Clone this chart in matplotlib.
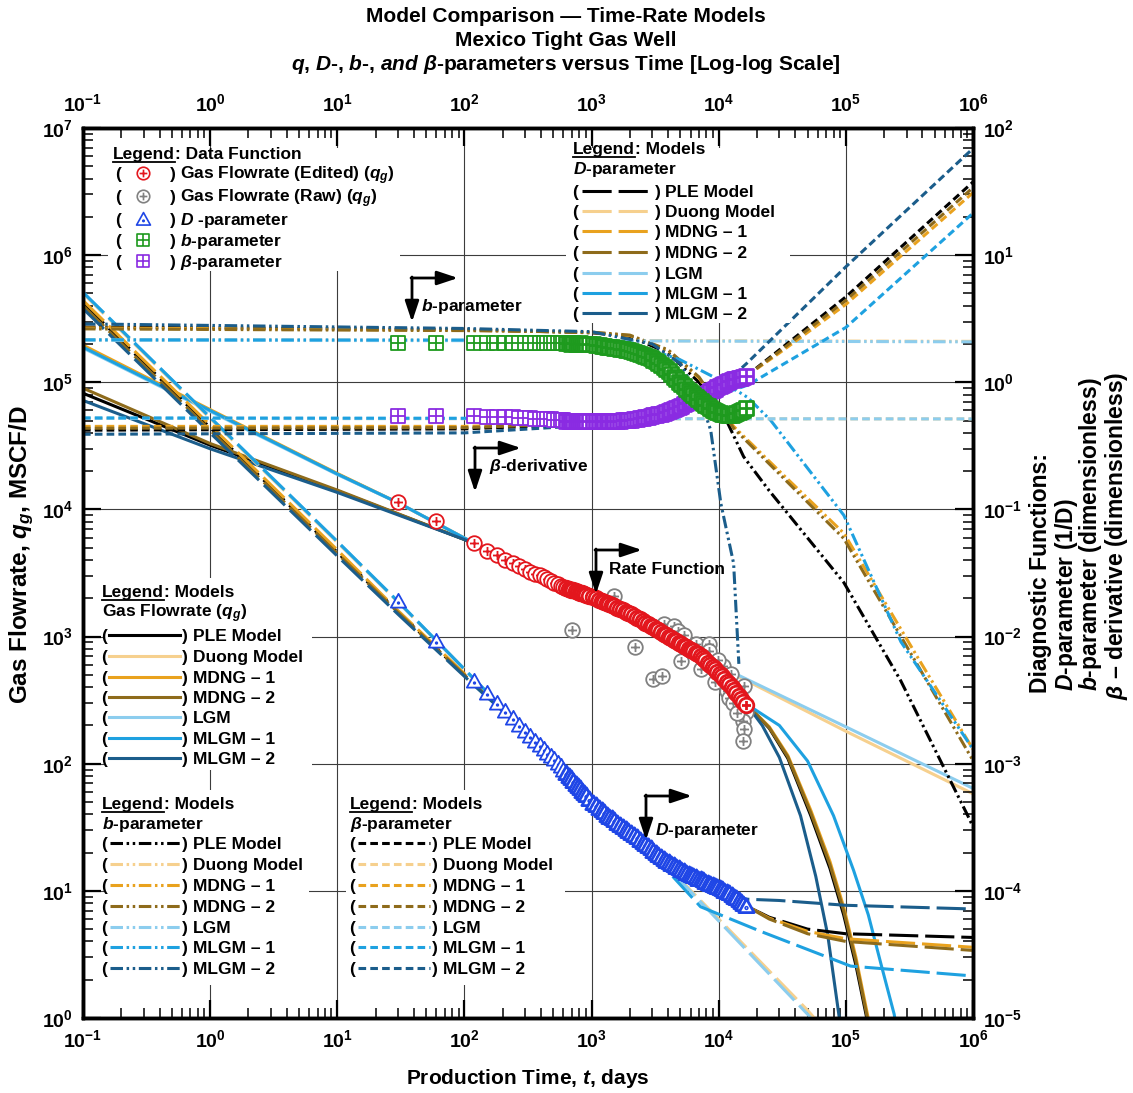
import numpy as np
import matplotlib
matplotlib.use("Agg")
import matplotlib.pyplot as plt
from matplotlib.path import Path
from matplotlib.patches import Rectangle
from matplotlib.ticker import LogLocator, FuncFormatter, NullFormatter

plt.rcParams.update({
    "font.family": ["Liberation Sans", "DejaVu Sans"],
    "font.weight": "bold",
    "mathtext.fontset": "custom",
    "mathtext.rm": "Liberation Sans:bold",
    "mathtext.it": "Liberation Sans:italic:bold",
    "mathtext.bf": "Liberation Sans:bold",
    "lines.scale_dashes": False,
})

W, H = 1133, 1093

# ---------------- production data (monthly records, days) ----------------
t_data = [30, 60, 120, 150, 180, 210, 240, 270, 300, 330, 360, 390, 420, 450, 480, 510, 540, 570, 600,
          630, 660, 690, 720, 750, 780, 810, 840, 870, 900,
          960, 1020, 1080, 1140, 1200, 1260, 1320, 1380, 1440, 1500,
          1590, 1680, 1770, 1860, 1950, 2040, 2160, 2280, 2400, 2520, 2640, 2760,
          2910, 3060, 3210, 3360, 3510, 3690, 3870, 4050, 4230, 4440, 4650, 4860, 5070,
          5310, 5550, 5790, 6060, 6330, 6600, 6900, 7200, 7530, 7860,
          8220, 8580, 8970, 9360, 9780, 10200, 10650, 11100, 11580, 12090, 12630,
          13170, 13740, 14340, 14970, 15630, 16320]
N_SPARSE = 19  # records before the curve becomes a continuous band

q_edited = [11500, 8100, 5400, 4750, 4350, 3970, 3760, 3570, 3390, 3220, 3130, 3030, 2950, 2850, 2750, 2660, 2590, 2520, 2470,
            2420, 2380, 2340, 2310, 2275, 2245, 2215, 2185, 2155, 2130,
            2085, 2040, 1995, 1945, 1905, 1865, 1825, 1790, 1760, 1725,
            1680, 1640, 1605, 1570, 1540, 1505, 1460, 1410, 1370, 1330, 1290, 1260,
            1220, 1180, 1150, 1120, 1090, 1055, 1030, 1000, 975, 946, 921, 896, 873,
            849, 828, 805, 785, 765, 745, 725, 700, 673, 649,
            622, 600, 574, 552, 530, 508, 488, 466, 442, 420, 398,
            378, 359, 340, 324, 307, 292]

d_data = [0.0189, 0.00931, 0.00451, 0.00361, 0.00302, 0.00259, 0.00227, 0.00203, 0.00182, 0.00166, 0.00152, 0.00141,
          0.00131, 0.00122, 0.00115, 0.00108, 0.00102, 9.53e-4, 9.0e-4,
          8.51e-4, 8.05e-4, 7.66e-4, 7.31e-4, 6.97e-4, 6.67e-4, 6.39e-4, 6.14e-4, 5.87e-4, 5.66e-4,
          5.26e-4, 4.95e-4, 4.73e-4, 4.51e-4, 4.32e-4, 4.15e-4, 3.98e-4, 3.84e-4, 3.71e-4, 3.60e-4,
          3.44e-4, 3.30e-4, 3.18e-4, 3.06e-4, 2.96e-4, 2.86e-4, 2.74e-4, 2.63e-4, 2.52e-4, 2.43e-4, 2.33e-4, 2.25e-4,
          2.16e-4, 2.07e-4, 1.99e-4, 1.92e-4, 1.85e-4, 1.78e-4, 1.73e-4, 1.68e-4, 1.64e-4, 1.59e-4, 1.55e-4, 1.50e-4, 1.46e-4,
          1.42e-4, 1.38e-4, 1.35e-4, 1.33e-4, 1.30e-4, 1.28e-4, 1.25e-4, 1.23e-4, 1.21e-4, 1.18e-4,
          1.16e-4, 1.14e-4, 1.11e-4, 1.09e-4, 1.07e-4, 1.05e-4, 1.03e-4, 1.00e-4, 9.77e-5, 9.55e-5, 9.31e-5,
          8.99e-5, 8.71e-5, 8.41e-5, 8.15e-5, 7.89e-5, 7.62e-5]

b_data = [2.03, 2.04, 2.03, 2.02, 2.03, 2.04, 2.03, 2.02, 2.03, 2.03, 2.02, 2.03, 2.02, 2.03, 2.02, 2.02, 2.03, 2.02, 2.02,
          2.02, 2.02, 2.01, 2.02, 2.01, 2.01, 2.02, 2.01, 2.01, 2.00,
          2.00, 1.99, 1.97, 1.95, 1.94, 1.92, 1.91, 1.89, 1.88, 1.87,
          1.85, 1.84, 1.82, 1.81, 1.79, 1.77, 1.73, 1.69, 1.66, 1.63, 1.60, 1.57,
          1.54, 1.51, 1.47, 1.42, 1.37, 1.32, 1.27, 1.22, 1.17, 1.11, 1.06, 1.01, 0.97,
          0.93, 0.89, 0.86, 0.82, 0.79, 0.76, 0.74, 0.71, 0.69, 0.665,
          0.645, 0.63, 0.61, 0.595, 0.58, 0.57, 0.565, 0.56, 0.557, 0.553, 0.55,
          0.562, 0.574, 0.586, 0.598, 0.61, 0.624]

beta_data = [0.54, 0.54, 0.54, 0.535, 0.535, 0.53, 0.53, 0.525, 0.52, 0.52, 0.518, 0.515, 0.513, 0.512, 0.51, 0.508,
             0.507, 0.505, 0.503,
             0.50, 0.50, 0.50, 0.498, 0.498, 0.497, 0.497, 0.496, 0.496, 0.495,
             0.495, 0.494, 0.494, 0.494, 0.495, 0.495, 0.496, 0.497, 0.498, 0.499,
             0.50, 0.50, 0.501, 0.502, 0.503, 0.505, 0.511, 0.517, 0.521, 0.527, 0.532, 0.537,
             0.543, 0.548, 0.555, 0.56, 0.564, 0.570, 0.582, 0.594, 0.605, 0.618, 0.631, 0.644, 0.656,
             0.670, 0.682, 0.695, 0.709, 0.723, 0.738, 0.752, 0.769, 0.789, 0.807,
             0.828, 0.847, 0.869, 0.889, 0.910, 0.931, 0.953, 0.975, 0.998, 1.02, 1.04,
             1.054, 1.066, 1.079, 1.089, 1.10, 1.114]

# raw rate records that were removed during editing
t_raw = [697, 1490, 2180, 3020, 3560, 3690, 4430, 4800, 5300, 6590, 8340, 8340, 5020, 7210, 9300,
         10900, 11560, 12400, 13600, 14400, 15700, 16300, 15500, 15800, 15600, 9800, 12000, 13000, 14000]
q_raw = [1135, 2100, 834, 467, 493, 1265, 1220, 1100, 1020, 881, 881, 776, 647, 560, 443,
         592, 376, 512, 343, 286, 411, 256, 218, 189, 152, 650, 330, 300, 250]

# ---------------- model curves ----------------
MODEL_NAMES = ["PLE Model", "Duong Model", "MDNG – 1", "MDNG – 2", "LGM", "MLGM – 1", "MLGM – 2"]
MODEL_COLORS = ["#000000", "#F6D08E", "#E9A21E", "#8E6B1B", "#8CCDEE", "#1EA1E0", "#1B5D8B"]

RATE_MODELS = {
    "PLE Model": ([0.1, 1, 10, 100, 300, 1000, 3000, 6000, 1e4, 16500, 2.5e4, 3.5e4, 5.3e4, 7.5e4, 9.6e4, 1.2e5, 1.44e5, 1.7e5],
                  [8.2e4, 3.2e4, 1.4e4, 5800, 3400, 2050, 1190, 790, 515, 295, 190, 110, 39, 15, 6.5, 2.6, 1.07, 0.4]),
    "Duong Model": ([0.1, 1, 10, 30, 100, 300, 1000, 3000, 6000, 1.2e4, 1e5, 1e6],
                    [1.92e5, 6.0e4, 1.9e4, 1.13e4, 5950, 3400, 2050, 1190, 790, 530, 180, 58]),
    "MDNG – 1": ([0.1, 1, 10, 30, 100, 300, 1000, 3000, 6000, 1e4, 16500, 2.5e4, 3.5e4, 5.3e4, 7.5e4, 9.6e4, 1.2e5, 1.47e5, 1.75e5],
                 [1.96e5, 6.1e4, 1.92e4, 1.13e4, 5950, 3400, 2050, 1190, 790, 515, 295, 195, 116, 43, 17, 7.5, 3.0, 1.1, 0.45]),
    "MDNG – 2": ([0.1, 1, 10, 100, 300, 1000, 3000, 6000, 1e4, 16500, 2.5e4, 3.5e4, 5.3e4, 7.5e4, 9.6e4, 1.2e5, 1.45e5, 1.7e5],
                 [9.0e4, 3.3e4, 1.42e4, 5800, 3400, 2050, 1190, 790, 515, 295, 192, 113, 41, 16, 7, 2.8, 1.1, 0.45]),
    "LGM": ([0.1, 1, 10, 30, 100, 300, 1000, 3000, 6000, 1.2e4, 1e5, 1e6],
            [1.86e5, 5.9e4, 1.88e4, 1.13e4, 5950, 3400, 2050, 1190, 790, 540, 195, 64]),
    "MLGM – 1": ([0.1, 1, 10, 30, 100, 300, 1000, 3000, 6000, 1e4, 16500, 3e4, 5e4, 8e4, 1.15e5, 1.5e5, 1.9e5, 2.4e5, 2.8e5],
                 [1.89e5, 6.0e4, 1.9e4, 1.13e4, 5950, 3400, 2050, 1190, 790, 515, 295, 200, 105, 39, 14.5, 6.5, 2.6, 1.07, 0.4]),
    "MLGM – 2": ([0.1, 1, 10, 100, 300, 1000, 3000, 6000, 1e4, 16500, 2.2e4, 3e4, 4.4e4, 5.8e4, 7.2e4, 8.8e4, 1e5],
                 [7.2e4, 3.0e4, 1.36e4, 5800, 3400, 2050, 1190, 790, 515, 295, 200, 112, 39, 13, 4.5, 1.07, 0.4]),
}

D_MODELS = {
    "PLE Model": ([0.1, 1, 10, 30, 120, 300, 1000, 2000, 3000, 5000, 1e4, 16500, 2.5e4, 5e4, 1e5, 1e6],
                  [4.2, 0.44, 0.046, 0.0157, 0.0042, 0.0018, 4.95e-4, 2.9e-4, 2.1e-4, 1.47e-4, 1.05e-4, 7.6e-5, 6.2e-5, 5.0e-5, 4.6e-5, 4.3e-5]),
    "Duong Model": ([0.1, 1, 10, 30, 120, 300, 1000, 2000, 4200, 1e4, 5e4, 7e4],
                    [5.0, 0.52, 0.055, 0.0187, 0.0046, 0.00182, 4.95e-4, 2.87e-4, 1.46e-4, 6.0e-5, 1.15e-5, 7.8e-6]),
    "MDNG – 1": ([0.1, 1, 10, 30, 120, 300, 1000, 2000, 3000, 5000, 1e4, 16500, 2.5e4, 5e4, 1e5, 1e6],
                 [4.4, 0.46, 0.048, 0.016, 0.0043, 0.0018, 4.95e-4, 2.9e-4, 2.1e-4, 1.47e-4, 1.05e-4, 7.6e-5, 6.1e-5, 4.8e-5, 4.2e-5, 3.6e-5]),
    "MDNG – 2": ([0.1, 1, 10, 30, 120, 300, 1000, 2000, 3000, 5000, 1e4, 16500, 2.5e4, 5e4, 1e5, 1e6],
                 [4.0, 0.42, 0.045, 0.0155, 0.0042, 0.0018, 4.95e-4, 2.9e-4, 2.1e-4, 1.47e-4, 1.05e-4, 7.6e-5, 6.0e-5, 4.6e-5, 4.0e-5, 3.4e-5]),
    "LGM": ([0.1, 1, 10, 30, 120, 300, 1000, 2000, 4200, 1e4, 5e4, 7e4],
            [5.1, 0.53, 0.056, 0.0189, 0.0046, 0.00182, 4.95e-4, 2.85e-4, 1.44e-4, 5.8e-5, 1.07e-5, 7.2e-6]),
    "MLGM – 1": ([0.1, 1, 10, 30, 120, 300, 1000, 2500, 4500, 7200, 2.14e4, 1.09e5, 1e6],
                 [5.1, 0.53, 0.056, 0.0189, 0.0046, 0.00182, 4.95e-4, 2.4e-4, 1.25e-4, 7.5e-5, 4.8e-5, 2.56e-5, 2.14e-5]),
    "MLGM – 2": ([0.1, 1, 10, 30, 120, 300, 1000, 2000, 3000, 5000, 1e4, 16500, 3e4, 1e5, 1e6],
                 [3.8, 0.40, 0.043, 0.015, 0.0041, 0.0018, 4.95e-4, 2.9e-4, 2.1e-4, 1.47e-4, 1.05e-4, 8.6e-5, 8.4e-5, 7.7e-5, 7.2e-5]),
}

B_MODELS = {
    "PLE Model": ([0.1, 100, 1000, 2000, 4000, 7000, 1.1e4, 1.57e4, 2.5e4, 9.64e4, 2.7e5, 9.1e5, 1e6],
                  [2.72, 2.6, 2.45, 2.3, 1.7, 1.0, 0.55, 0.26, 0.14, 0.0266, 0.0045, 3.9e-4, 3.2e-4]),
    "Duong Model": ([0.1, 1000, 1e6], [2.15, 2.13, 2.1]),
    "MDNG – 1": ([0.1, 100, 1000, 2000, 4000, 7000, 1.31e4, 3e4, 9.64e4, 3.69e5, 1e6],
                 [2.68, 2.57, 2.47, 2.33, 1.78, 1.08, 0.45, 0.2, 0.065, 0.0068, 0.0013]),
    "MDNG – 2": ([0.1, 100, 1000, 2000, 4000, 7000, 1.31e4, 3e4, 9.64e4, 3.69e5, 1e6],
                 [2.63, 2.55, 2.48, 2.35, 1.8, 1.1, 0.435, 0.19, 0.059, 0.0059, 0.00106]),
    "LGM": ([0.1, 1000, 1e6], [2.14, 2.12, 2.08]),
    "MLGM – 1": ([0.1, 100, 1000, 2000, 5000, 1e4, 1.69e4, 2.57e4, 9.64e4, 2.71e5, 1e6],
                 [2.16, 2.15, 2.12, 2.05, 1.5, 1.05, 0.76, 0.50, 0.09, 0.0091, 0.0013]),
    "MLGM – 2": ([0.1, 100, 1000, 3000, 5000, 7200, 8650, 1.04e4, 1.31e4, 1.44e4],
                 [2.88, 2.65, 2.5, 2.0, 1.4, 0.72, 0.42, 0.111, 0.0376, 0.0061]),
}

BETA_MODELS = {
    "PLE Model": ([0.1, 100, 1000, 3690, 7200, 1.2e4, 1.65e4, 3e4, 1e5, 1e6],
                  [0.42, 0.43, 0.47, 0.57, 0.77, 1.0, 1.12, 1.8, 4.7, 37.6]),
    "Duong Model": ([0.1, 1e6], [0.52, 0.515]),
    "MDNG – 1": ([0.1, 100, 1000, 3690, 7200, 1.2e4, 1.65e4, 3e4, 1e5, 1e6],
                 [0.45, 0.45, 0.48, 0.57, 0.77, 1.0, 1.12, 1.7, 4.1, 31]),
    "MDNG – 2": ([0.1, 100, 1000, 3690, 7200, 1.2e4, 1.65e4, 3e4, 1e5, 1e6],
                 [0.435, 0.44, 0.475, 0.57, 0.77, 1.0, 1.12, 1.75, 4.4, 34]),
    "LGM": ([0.1, 1e6], [0.52, 0.515]),
    "MLGM – 1": ([0.1, 1000, 3000, 7000, 1.69e4, 1e5, 1e6],
                 [0.525, 0.52, 0.56, 0.7, 0.95, 2.7, 21.4]),
    "MLGM – 2": ([0.1, 100, 1000, 3690, 7200, 1.2e4, 1.65e4, 1e5, 1e6],
                 [0.39, 0.40, 0.46, 0.57, 0.78, 1.05, 1.4, 8.1, 69]),
}

# line styles for the four model quantities
RATE_LS = "-"
D_LS = (0, (21, 5))
B_LS = (0, (9, 2.6, 1.8, 2.6, 1.8, 2.6))
BETA_LS = (0, (5.5, 3))
LW = 2.2


# ---------------- marker shapes ----------------
def circle_plus():
    c = Path.unit_circle()
    a = 0.62
    verts = np.concatenate([c.vertices, [[-a, 0], [a, 0], [0, -a], [0, a]]])
    codes = np.concatenate([c.codes, [Path.MOVETO, Path.LINETO, Path.MOVETO, Path.LINETO]])
    return Path(verts, codes)


def square_grid():
    verts = [[-1, -1], [1, -1], [1, 1], [-1, 1], [-1, -1], [-1, 0], [1, 0], [0, -1], [0, 1]]
    codes = [Path.MOVETO, Path.LINETO, Path.LINETO, Path.LINETO, Path.CLOSEPOLY,
             Path.MOVETO, Path.LINETO, Path.MOVETO, Path.LINETO]
    return Path(verts, codes)


def triangle_dot():
    tri = Path([[0, 1], [-1, -0.8], [1, -0.8], [0, 1]],
               [Path.MOVETO, Path.LINETO, Path.LINETO, Path.CLOSEPOLY])
    dot = Path.circle((0, -0.2), 0.1)
    return Path.make_compound_path(tri, dot)


M_CIRC, M_SQ, M_TRI = circle_plus(), square_grid(), triangle_dot()
RED, GRAY, BLUE, GREEN, PURPLE = "#E3161D", "#808080", "#1F46E6", "#1E9A1E", "#8A2BE2"

# ---------------- axes ----------------
fig = plt.figure(figsize=(W / 100, H / 100), dpi=100)
ax = fig.add_axes([83 / W, 1 - 1018 / H, 890 / W, 890 / H])
ax.set_xscale("log")
ax.set_yscale("log")
ax.set_xlim(1e-1, 1e6)
ax.set_ylim(1e0, 1e7)
ax2 = ax.twinx()
ax2.set_yscale("log")
ax2.set_ylim(1e-5, 1e2)
ax3 = ax.twiny()
ax3.set_xscale("log")
ax3.set_xlim(1e-1, 1e6)
ax2.tick_params(axis="x", which="both", bottom=False, top=False, labelbottom=False, labeltop=False)
ax3.tick_params(axis="y", which="both", left=False, right=False, labelleft=False, labelright=False)

ax.grid(True, which="major", color="#3c3c3c", lw=0.8)
ax.set_axisbelow(True)

dec = FuncFormatter(lambda v, p: r"$10^{%d}$" % int(round(np.log10(v))))
for axis in (ax.xaxis, ax.yaxis, ax2.yaxis, ax3.xaxis):
    axis.set_major_locator(LogLocator(base=10, numticks=15))
    axis.set_minor_locator(LogLocator(base=10, subs=np.arange(2, 10), numticks=15))
    axis.set_major_formatter(dec)
    axis.set_minor_formatter(NullFormatter())

for a in (ax, ax2, ax3):
    a.tick_params(which="major", direction="in", length=13, width=1.6, labelsize=14)
    a.tick_params(which="minor", direction="in", length=7, width=1.1)
    for s in a.spines.values():
        s.set_linewidth(2.4)
ax.tick_params(axis="x", pad=8)
ax.tick_params(axis="y", pad=7)
ax2.tick_params(axis="y", pad=7)
ax3.tick_params(axis="x", pad=9)

# ---------------- model curves ----------------
for name, color in zip(MODEL_NAMES, MODEL_COLORS):
    t, v = RATE_MODELS[name]
    ax.plot(t, v, color=color, lw=LW, ls=RATE_LS, zorder=2)
for table, ls in ((D_MODELS, D_LS), (B_MODELS, B_LS), (BETA_MODELS, BETA_LS)):
    for name, color in zip(MODEL_NAMES, MODEL_COLORS):
        t, v = table[name]
        ax2.plot(t, v, color=color, lw=LW, ls=ls, dash_capstyle="butt", zorder=2)


# ---------------- data functions ----------------
def data_series(axis, t, v, marker, ms, color, z):
    # isolated early records keep a thin outline, the dense tail merges into a band
    kw = dict(ls="none", marker=marker, ms=ms, mfc="white", mec=color, zorder=z)
    axis.plot(t[:N_SPARSE], v[:N_SPARSE], mew=1.3, **kw)
    axis.plot(t[N_SPARSE:], v[N_SPARSE:], mew=2.0, **kw)


ax.plot(t_raw, q_raw, ls="none", marker=M_CIRC, ms=10.5, mfc="white", mec=GRAY, mew=1.3, zorder=4)
data_series(ax, t_data, q_edited, M_CIRC, 10.5, RED, 5)
data_series(ax2, t_data, d_data, M_TRI, 11, BLUE, 4)
data_series(ax2, t_data, beta_data, M_SQ, 10, PURPLE, 4)
data_series(ax2, t_data, b_data, M_SQ, 10, GREEN, 5)

# ---------------- overlay: titles, labels, legends, callouts ----------------
lax = fig.add_axes([0, 0, 1, 1])
lax.set_xlim(0, W)
lax.set_ylim(H, 0)
lax.set_xticks([])
lax.set_yticks([])
lax.axis("off")
lax.patch.set_visible(False)
renderer = fig.canvas.get_renderer()
inv = lax.transData.inverted()
FS = 12.5

lax.text(566, 17, "Model Comparison — Time-Rate Models", ha="center", va="center", fontsize=15)
lax.text(566, 41, "Mexico Tight Gas Well", ha="center", va="center", fontsize=15)
lax.text(566, 65, r"$q$, $D$-, $b$-, $and$ $\beta$-parameters versus Time [Log-log Scale]",
         ha="center", va="center", fontsize=15)
lax.text(528, 1079, r"Production Time, $t$, days", ha="center", va="center", fontsize=15)
lax.text(22, 555, r"Gas Flowrate, $q_g$, MSCF/D", rotation=90, ha="center", va="center", fontsize=17.5)
for x, y0, s in ((1041, 693, "Diagnostic Functions:"),
                 (1066, 691, r"$D$-parameter (1/D)"),
                 (1091, 691, r"$b$-parameter (dimensionless)"),
                 (1117, 700, r"$\beta$ – derivative (dimensionless)")):
    lax.text(x, y0, s, rotation=90, ha="center", va="bottom", fontsize=16.5)


def box(x0, y0, x1, y1):
    lax.add_patch(Rectangle((x0, y0), x1 - x0, y1 - y0, facecolor="white", edgecolor="none", zorder=1))


def header(x, y, rest):
    base = y + 6
    t = lax.text(x, base, "Legend", fontsize=FS, va="baseline", zorder=3)
    bb = t.get_window_extent(renderer)
    (xa, _), (xb, _) = inv.transform([[bb.x0, bb.y0], [bb.x1, bb.y0]])
    lax.plot([xa, xb], [base + 2.5, base + 2.5], color="k", lw=1.3, zorder=3)
    lax.text(xb, base, rest, fontsize=FS, va="baseline", zorder=3)


def entry(x_open, x_close, x_text, y, label):
    base = y + 6
    lax.text(x_open, base, "(", fontsize=FS, va="baseline", zorder=3)
    lax.text(x_close, base, ")", fontsize=FS, va="baseline", zorder=3)
    lax.text(x_text, base, label, fontsize=FS, va="baseline", zorder=3)


# data functions
box(108, 148, 400, 271)
header(113, 153, ": Data Function")
data_rows = [(173, M_CIRC, RED, 9, r"Gas Flowrate (Edited) ($q_g$)"),
             (196, M_CIRC, GRAY, 9, r"Gas Flowrate (Raw) ($q_g$)"),
             (219, M_TRI, BLUE, 10, r"$D$ -parameter"),
             (240, M_SQ, GREEN, 8.5, r"$b$-parameter"),
             (261, M_SQ, PURPLE, 8.5, r"$\beta$-parameter")]
for y, m, c, s, lab in data_rows:
    entry(115, 170, 180, y, lab)
    lax.plot([143], [y], marker=m, ms=s, mfc="white", mec=c, mew=1.2, zorder=3)


def model_legend(x0, y_title, subtitle, rows_y, ls, line_x, close_x, text_x):
    header(x0, y_title, ": Models")
    lax.text(x0, y_title + 20 + 6, subtitle, fontsize=FS, va="baseline", zorder=3)
    for y, name, color in zip(rows_y, MODEL_NAMES, MODEL_COLORS):
        entry(x0 - 1, close_x, text_x, y, name)
        lax.plot(line_x, [y, y], color=color, lw=LW, ls=ls, dash_capstyle="butt", zorder=3)


box(566, 148, 790, 323)
model_legend(573, 148, r"$D$-parameter", [191, 211, 231, 252, 273, 293, 313], D_LS, [582, 652], 655, 665)

box(104, 578, 312, 770)
model_legend(102, 591, r"Gas Flowrate ($q_g$)", [635, 656, 677, 697, 717, 738, 758], RATE_LS, [109, 180], 182, 193)

box(104, 790, 309, 985)
model_legend(102, 803, r"$b$-parameter", [843, 864, 885, 906, 927, 947, 968], B_LS, [110, 180], 182, 193)

box(346, 790, 565, 985)
model_legend(350, 803, r"$\beta$-parameter", [843, 864, 885, 906, 927, 947, 968], BETA_LS, [358, 430], 432, 443)

# callout arrows
arrow = dict(arrowstyle="-|>,head_length=0.9,head_width=0.3", color="k", lw=2,
             shrinkA=0, shrinkB=0, mutation_scale=14)
for (cx, cy), label, tx, ty in (((412, 278), r"$b$-parameter", 421, 306),
                                ((475, 448), r"$\beta$-derivative", 489, 466),
                                ((596, 550), "Rate Function", 609, 569),
                                ((646, 796), r"$D$-parameter", 655, 830)):
    lax.annotate("", xy=(cx + 46, cy), xytext=(cx - 1, cy), arrowprops=arrow, zorder=3)
    lax.annotate("", xy=(cx, cy + 44), xytext=(cx, cy - 1), arrowprops=arrow, zorder=3)
    lax.text(tx, ty, label, fontsize=FS, va="center", ha="left", zorder=3)

fig.savefig("out.png", dpi=100)
